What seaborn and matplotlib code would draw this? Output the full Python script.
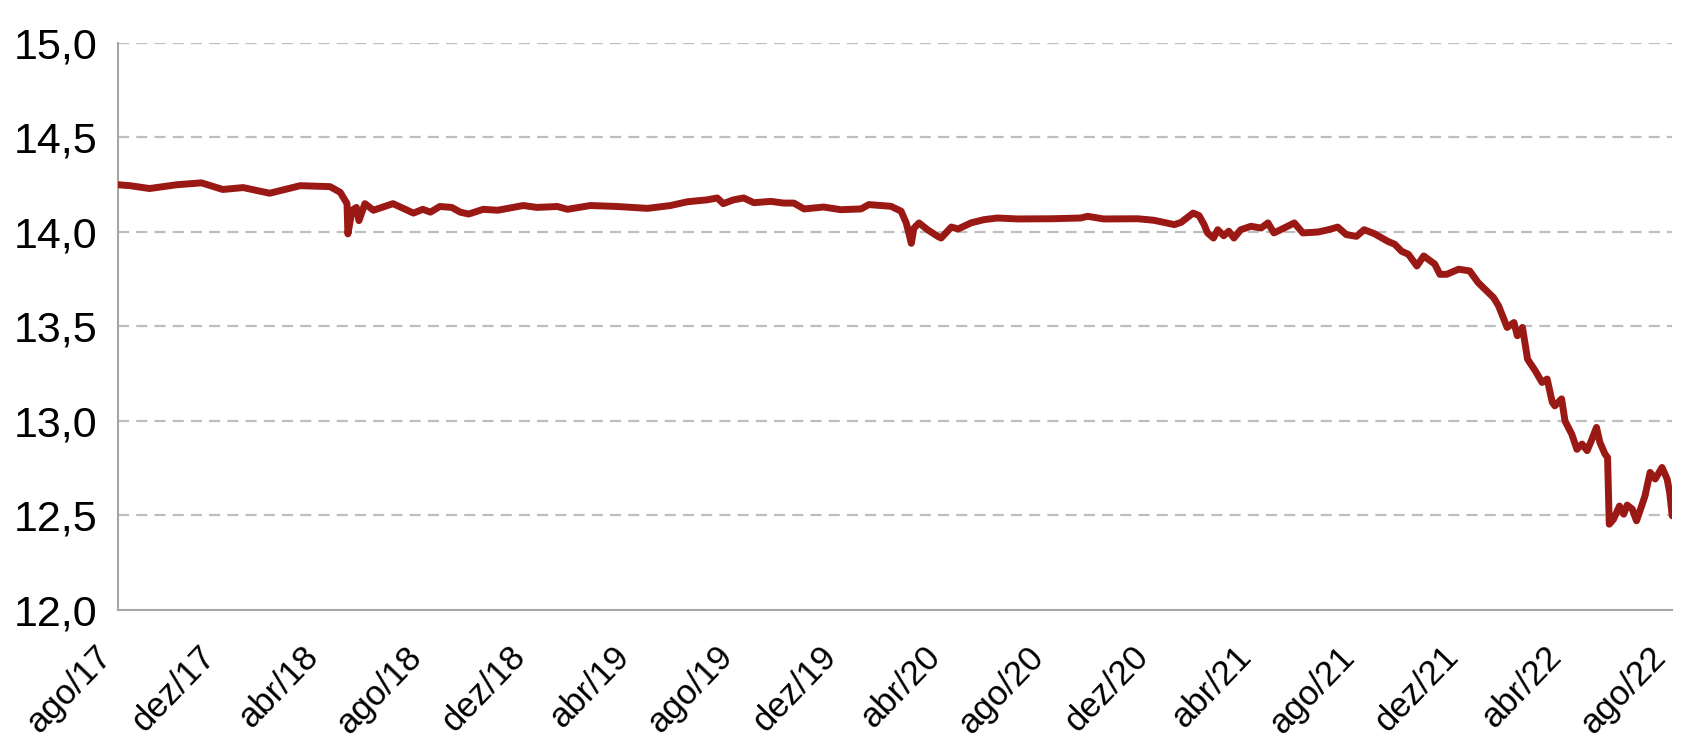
import pandas as pd
import matplotlib
matplotlib.use("Agg")
import matplotlib.pyplot as plt
import matplotlib.transforms as mtransforms
import seaborn as sns

## dados ----------------------------------------------------------------------
datas = [
    "2017-08-01", "2017-08-15", "2017-09-07", "2017-10-09", "2017-11-07",
    "2017-12-02", "2017-12-26", "2018-01-26", "2018-03-03", "2018-04-07",
    "2018-04-19", "2018-04-27", "2018-04-28", "2018-05-03", "2018-05-08",
    "2018-05-11", "2018-05-18", "2018-05-28", "2018-06-20", "2018-07-14",
    "2018-07-25", "2018-08-03", "2018-08-14", "2018-08-28", "2018-09-07",
    "2018-09-17", "2018-10-04", "2018-10-21", "2018-11-20", "2018-12-06",
    "2018-12-30", "2019-01-11", "2019-02-07", "2019-03-10", "2019-04-15",
    "2019-05-12", "2019-06-01", "2019-06-24", "2019-07-06", "2019-07-13",
    "2019-07-25", "2019-08-06", "2019-08-18", "2019-09-07", "2019-09-22",
    "2019-10-04", "2019-10-16", "2019-11-08", "2019-11-28", "2019-12-22",
    "2019-12-31", "2020-01-26", "2020-02-07", "2020-02-13", "2020-02-19",
    "2020-02-22", "2020-02-28", "2020-03-09", "2020-03-21", "2020-03-25",
    "2020-04-06", "2020-04-14", "2020-04-29", "2020-05-14", "2020-05-30",
    "2020-06-23", "2020-08-01", "2020-09-05", "2020-09-13", "2020-10-02",
    "2020-11-11", "2020-11-30", "2020-12-24", "2021-01-01", "2021-01-15",
    "2021-01-22", "2021-01-28", "2021-02-01", "2021-02-08", "2021-02-13",
    "2021-02-20", "2021-02-26", "2021-03-04", "2021-03-12", "2021-03-24",
    "2021-04-05", "2021-04-13", "2021-04-20", "2021-05-02", "2021-05-14",
    "2021-05-24", "2021-06-11", "2021-06-23", "2021-07-04", "2021-07-14",
    "2021-07-26", "2021-08-04", "2021-08-16", "2021-09-01", "2021-09-09",
    "2021-09-17", "2021-09-25", "2021-10-05", "2021-10-13", "2021-10-26",
    "2021-11-01", "2021-11-09", "2021-11-23", "2021-12-06", "2021-12-16",
    "2021-12-24", "2022-01-03", "2022-01-09", "2022-01-19", "2022-01-27",
    "2022-01-31", "2022-02-06", "2022-02-12", "2022-02-21", "2022-03-01",
    "2022-03-07", "2022-03-13", "2022-03-16", "2022-03-24", "2022-03-28",
    "2022-04-05", "2022-04-11", "2022-04-17", "2022-04-23", "2022-04-28",
    "2022-05-04", "2022-05-08", "2022-05-14", "2022-05-17", "2022-05-19",
    "2022-05-24", "2022-05-31", "2022-06-05", "2022-06-09", "2022-06-15",
    "2022-06-20", "2022-06-26", "2022-06-30", "2022-07-06", "2022-07-12",
    "2022-07-20", "2022-07-26", "2022-07-29", "2022-08-01",
]
valores = [
    14.25, 14.245, 14.23, 14.25, 14.26,
    14.225, 14.235, 14.205, 14.245, 14.24,
    14.21, 14.15, 13.99, 14.115, 14.13,
    14.06, 14.15, 14.115, 14.15, 14.10,
    14.12, 14.105, 14.135, 14.13, 14.105,
    14.095, 14.12, 14.115, 14.14, 14.13,
    14.135, 14.12, 14.14, 14.135, 14.125,
    14.14, 14.16, 14.17, 14.18, 14.15,
    14.17, 14.18, 14.155, 14.162, 14.153,
    14.153, 14.122, 14.132, 14.118, 14.122,
    14.145, 14.136, 14.11, 14.048, 13.94,
    14.02, 14.048, 14.012, 13.977, 13.968,
    14.026, 14.016, 14.048, 14.065, 14.074,
    14.069, 14.07, 14.074, 14.083, 14.069,
    14.07, 14.062, 14.039, 14.051, 14.10,
    14.087, 14.039, 13.995, 13.968, 14.012,
    13.98, 14.004, 13.968, 14.012, 14.03,
    14.021, 14.048, 13.995, 14.021, 14.048,
    13.995, 14.00, 14.012, 14.026, 13.986,
    13.977, 14.012, 13.991, 13.95, 13.935,
    13.898, 13.882, 13.82, 13.873, 13.83,
    13.776, 13.776, 13.803, 13.794, 13.732,
    13.697, 13.653, 13.609, 13.495, 13.521,
    13.451, 13.495, 13.327, 13.266, 13.204,
    13.222, 13.10, 13.08, 13.117, 13.00,
    12.93, 12.85, 12.878, 12.843, 12.896,
    12.966, 12.887, 12.825, 12.807, 12.454,
    12.48, 12.55, 12.507, 12.555, 12.534,
    12.472, 12.55, 12.604, 12.728, 12.693,
    12.754, 12.693, 12.62, 12.498,
]

## eixos ----------------------------------------------------------------------
ticks_x  = ["2017-08-01", "2017-12-01", "2018-04-01", "2018-08-01", "2018-12-01",
            "2019-04-01", "2019-08-01", "2019-12-01", "2020-04-01", "2020-08-01",
            "2020-12-01", "2021-04-01", "2021-08-01", "2021-12-01", "2022-04-01",
            "2022-08-01"]
labels_x = ["ago/17", "dez/17", "abr/18", "ago/18", "dez/18", "abr/19", "ago/19",
            "dez/19", "abr/20", "ago/20", "dez/20", "abr/21", "ago/21", "dez/21",
            "abr/22", "ago/22"]
ticks_y  = [12.0, 12.5, 13.0, 13.5, 14.0, 14.5, 15.0]
labels_y = ["12,0", "12,5", "13,0", "13,5", "14,0", "14,5", "15,0"]

## main -----------------------------------------------------------------------
sns.set_theme(style="white")
plt.rcParams["font.family"] = ["Liberation Sans", "DejaVu Sans"]

df = pd.DataFrame({"data": pd.to_datetime(datas), "valor": valores})

fig = plt.figure(figsize=(16.82, 7.40), dpi=100)
ax = fig.add_axes([0.0702, 0.1757, 0.9240, 0.7662])

cinza = "#A6A6A6"
for y in ticks_y[1:]:
    ax.axhline(y, color="#BEBEBE", linewidth=1.6, linestyle=(0, (5, 3.2)), zorder=1)

sns.lineplot(data=df, x="data", y="valor", color="#9B1915", linewidth=5, ax=ax, zorder=3)

ax.set_xlim(pd.Timestamp("2017-08-01"), pd.Timestamp("2022-08-01"))
ax.set_ylim(12.0, 15.0)
ax.set_xticks(pd.to_datetime(ticks_x))
ax.set_xticklabels(labels_x, rotation=46, ha="right", va="top", fontsize=25)
ax.set_yticks(ticks_y)
ax.set_yticklabels(labels_y, fontsize=31)
ax.set_xlabel("")
ax.set_ylabel("")

# desloca os rótulos do eixo x um pouco para a direita
desloc = mtransforms.ScaledTranslation(5 / 100, 0, fig.dpi_scale_trans)
for lbl in ax.get_xticklabels():
    lbl.set_transform(lbl.get_transform() + desloc)

for s in ["top", "right"]:
    ax.spines[s].set_visible(False)
for s in ["left", "bottom"]:
    ax.spines[s].set_color(cinza)
    ax.spines[s].set_linewidth(1.5)
ax.tick_params(axis="both", direction="out", length=8.6, width=1.5, color=cinza,
               labelcolor="black")
ax.tick_params(axis="y", pad=6)
ax.tick_params(axis="x", pad=13)

fig.savefig("out.png", dpi=100)
